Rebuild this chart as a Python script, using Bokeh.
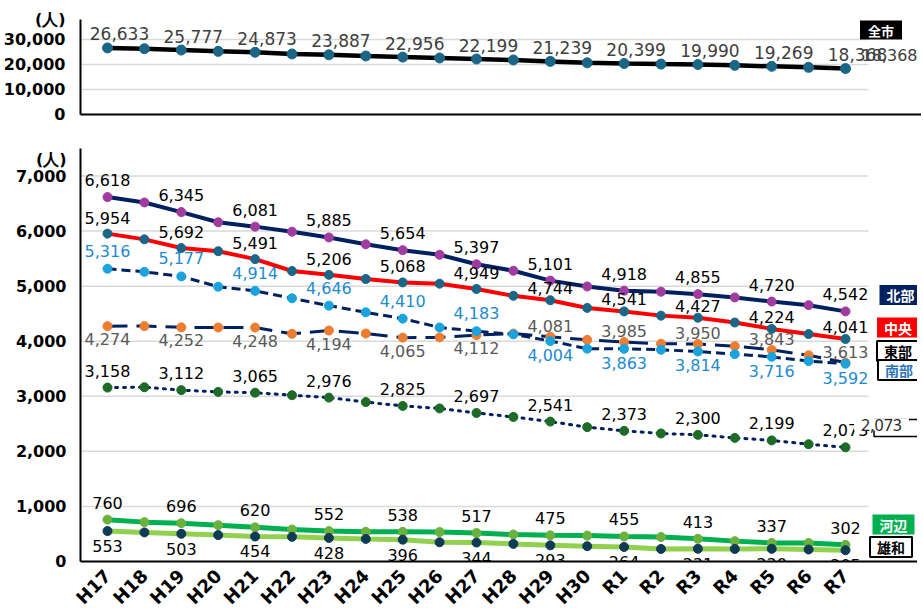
import math
from bokeh.plotting import figure
from bokeh.models import ColumnDataSource, Range1d, FixedTicker, NumeralTickFormatter, Label
from bokeh.layouts import column
from bokeh.core.properties import value
from bokeh.embed import file_html
from bokeh.resources import INLINE

# ---------------- data ----------------
years = ["H17", "H18", "H19", "H20", "H21", "H22", "H23", "H24", "H25", "H26", "H27",
         "H28", "H29", "H30", "R1", "R2", "R3", "R4", "R5", "R6", "R7"]

zenshi = [26633, 26313, 25777, 25255, 24873, 24228, 23887, 23400, 22956, 22600, 22199,
          21805, 21239, 20678, 20399, 20163, 19990, 19653, 19269, 18853, 18368]
hokubu = [6618, 6520, 6345, 6160, 6081, 5990, 5885, 5760, 5654, 5570, 5397,
          5280, 5101, 4995, 4918, 4900, 4855, 4795, 4720, 4655, 4542]
chuo = [5954, 5850, 5692, 5635, 5491, 5275, 5206, 5130, 5068, 5045, 4949,
        4825, 4744, 4605, 4541, 4465, 4427, 4340, 4224, 4130, 4041]
nanbu = [5316, 5260, 5177, 4990, 4914, 4780, 4646, 4525, 4410, 4250, 4183,
         4125, 4004, 3865, 3863, 3845, 3814, 3765, 3716, 3640, 3592]
tobu = [4274, 4275, 4252, 4250, 4248, 4135, 4194, 4140, 4065, 4070, 4112,
        4140, 4081, 4025, 3985, 3955, 3950, 3910, 3843, 3745, 3613]
seibu = [3158, 3165, 3112, 3080, 3065, 3020, 2976, 2895, 2825, 2780, 2697,
         2625, 2541, 2440, 2373, 2325, 2300, 2245, 2199, 2130, 2073]
kawabe = [760, 715, 696, 660, 620, 580, 552, 540, 538, 535, 517,
          490, 475, 470, 455, 445, 413, 370, 337, 335, 302]
yuwa = [553, 528, 503, 480, 454, 448, 428, 410, 396, 350, 344,
        320, 293, 278, 264, 228, 231, 228, 230, 218, 205]

top_ticks = [0, 10000, 20000, 30000]
bottom_ticks = [0, 1000, 2000, 3000, 4000, 5000, 6000, 7000]
top_max = 38000
bottom_max = 7500
top_unit_at = 38000
bottom_unit_at = 7300
unit_text = "(人)"
legend_zenshi = "全市"
legend_names = ["北部", "中央", "東部", "南部", "河辺", "雄和"]
seibu_side_text = "2,073"

# ---------------- geometry (picture px) ----------------
PAGE_DX, PAGE_DY = 4, 0          # where the figures' origin lands in the picture
FRAME_L, FRAME_R = 80, 921
GRID_R = 868
FIRST_PX, STEP = 107.0, 36.9
N = len(years)
x_start = (FRAME_L - FIRST_PX) / STEP
x_end = (FRAME_R - FIRST_PX) / STEP
FRAME_W = FRAME_R - FRAME_L

TOP_FRAME_B = 114
TOP_FRAME_T = TOP_FRAME_B - top_max * 25 / 10000      # 25 px per 10,000
TOP_FIG_H = 130
BOT_FRAME_T, BOT_FRAME_B = 148, 561


def px2x(px):
    return (px - FIRST_PX) / STEP


def py2y_top(py):
    return (TOP_FRAME_B - py) / (TOP_FRAME_B - TOP_FRAME_T) * top_max


def py2y_bot(py):
    return (BOT_FRAME_B - py) / (BOT_FRAME_B - BOT_FRAME_T) * bottom_max


idx = list(range(N))
NUM_FONT = "DejaVu Sans"
CJK = "Noto Sans CJK JP"


def style(p, ticks, unit_at):
    p.background_fill_color = "white"
    p.border_fill_color = "white"
    p.outline_line_color = None
    p.xgrid.grid_line_color = None
    p.ygrid.grid_line_color = None
    # grid lines that stop before the legend column
    gs = ColumnDataSource(dict(y=ticks[1:]))
    p.segment(x0=x_start, x1=px2x(GRID_R), y0="y", y1="y", source=gs,
              line_color="#D9D9D9", line_width=1.5)
    ya = p.yaxis[0]
    ya.ticker = FixedTicker(ticks=ticks + [unit_at])
    ya.formatter = NumeralTickFormatter(format="0,0")
    ya.major_label_overrides = {unit_at: unit_text}
    ya.major_label_text_font = NUM_FONT
    ya.major_label_text_font_style = "bold"
    ya.major_label_text_font_size = "16px"
    ya.major_label_text_color = "black"
    ya.major_tick_line_color = None
    ya.minor_tick_line_color = None
    ya.axis_line_color = "black"
    ya.axis_line_width = 2
    ya.major_label_standoff = 9
    xa = p.xaxis[0]
    xa.axis_line_color = "black"
    xa.axis_line_width = 2
    xa.major_tick_line_color = None
    xa.minor_tick_line_color = None


# ---------------- top panel ----------------
pt = figure(frame_width=FRAME_W, frame_height=int(round(TOP_FRAME_B - TOP_FRAME_T)),
            min_border_left=FRAME_L - PAGE_DX, min_border_right=0,
            min_border_top=int(round(TOP_FRAME_T)) - PAGE_DY,
            min_border_bottom=TOP_FIG_H - TOP_FRAME_B,
            x_range=Range1d(x_start, x_end), y_range=Range1d(0, top_max),
            output_backend="svg", toolbar_location=None)
style(pt, top_ticks, top_unit_at)
pt.xaxis[0].ticker = FixedTicker(ticks=[])
pt.xaxis[0].major_label_text_font_size = "0px"

src_top = ColumnDataSource(dict(x=idx, y=zenshi))
pt.line("x", "y", source=src_top, line_color="black", line_width=4.5)
pt.scatter("x", "y", source=src_top, size=10, fill_color="#1B6587", line_color="#1B6587")

lab_idx = [i for i in idx if i % 2 == 0]
src_top_lab = ColumnDataSource(dict(x=lab_idx, y=[zenshi[i] for i in lab_idx],
                                    t=[f"{zenshi[i]:,}" for i in lab_idx]))
pt.text("x", "y", text="t", source=src_top_lab, x_offset=12, y_offset=-14,
        text_align="center", text_baseline="middle", text_color="#404040",
        text_font=value(NUM_FONT), text_font_size=value("17px"))
# overlapping duplicate of the last value (as in the original)
pt.add_layout(Label(x=px2x(889), y=py2y_top(54), text=f"{zenshi[-1]:,}",
                    text_align="center", text_baseline="middle", text_color="#404040",
                    text_font=NUM_FONT, text_font_size="16px"))
pt.add_layout(Label(x=px2x(880.5), y=py2y_top(29.5), text=legend_zenshi, text_align="center",
                    text_baseline="middle", text_color="white", text_font=CJK,
                    text_font_style="bold", text_font_size="13px",
                    background_fill_color="black", padding=(8, 0)))

# ---------------- bottom panel ----------------
pb = figure(frame_width=FRAME_W, frame_height=BOT_FRAME_B - BOT_FRAME_T,
            min_border_left=FRAME_L - PAGE_DX, min_border_right=0,
            min_border_top=BOT_FRAME_T - TOP_FIG_H, min_border_bottom=40,
            x_range=Range1d(x_start, x_end), y_range=Range1d(0, bottom_max),
            output_backend="svg", toolbar_location=None)
style(pb, bottom_ticks, bottom_unit_at)
xa = pb.xaxis[0]
xa.ticker = FixedTicker(ticks=idx)
xa.major_label_overrides = {i: years[i] for i in idx}
xa.major_label_orientation = math.pi / 4
xa.major_label_text_font = NUM_FONT
xa.major_label_text_font_style = "bold"
xa.major_label_text_font_size = "18px"
xa.major_label_text_color = "black"
xa.major_label_standoff = 5
pb.yaxis[0].major_label_standoff = 8

series = [
    # values, line color, dash, width, marker color
    (hokubu, "#002060", "solid", 4, "#A03CA0"),
    (chuo, "#FF0000", "solid", 4, "#1B6587"),
    (tobu, "#002060", "20 9", 3, "#ED7D31"),
    (nanbu, "#002060", "9 5", 3, "#1AA3DC"),
    (seibu, "#002060", "2 6", 3, "#1E6B28"),
    (kawabe, "#00B050", "solid", 5, "#6AB23E"),
    (yuwa, "#92D050", "solid", 5, "#0F3B55"),
]
for vals, lc, dash, lw, mc in series:
    s = ColumnDataSource(dict(x=idx, y=vals))
    pb.line("x", "y", source=s, line_color=lc, line_width=lw, line_dash=dash,
            line_cap="round" if dash == "2 6" else "butt")
    pb.scatter("x", "y", source=s, size=9, fill_color=mc, line_color=mc)


def add_labels(vals, color, off_early, off_late=None, split=10):
    for part, off in ((lambda i: i <= split, off_early),
                      (lambda i: i > split, off_late if off_late is not None else off_early)):
        ii = [i for i in lab_idx if part(i)]
        if not ii:
            continue
        s = ColumnDataSource(dict(x=ii, y=[vals[i] for i in ii], t=[f"{vals[i]:,}" for i in ii]))
        pb.text("x", "y", text="t", source=s, y_offset=off, text_align="center",
                text_baseline="middle", text_color=color, text_font=value(NUM_FONT),
                text_font_size=value("16px"))


add_labels(hokubu, "black", -17)
add_labels(chuo, "black", -16, -12)
add_labels(tobu, "#595959", 13, -11)
add_labels(nanbu, "#1E8AD2", -18, 14)
add_labels(seibu, "black", -17)
add_labels(kawabe, "black", -17)
add_labels(yuwa, "black", 15)

legend_specs = [
    # text, center px, center py, bg, text color, border
    (legend_names[0], 900, 294.5, "#002060", "white", None),
    (legend_names[1], 897.5, 327, "#FF0000", "white", None),
    (legend_names[2], 897.5, 350.5, "white", "black", "black"),
    (legend_names[3], 898.5, 369.5, "white", "#2E75B6", "black"),
    (legend_names[4], 893, 524, "#00B050", "white", None),
    (legend_names[5], 890.5, 546.5, "white", "black", "black"),
]
for txt, cx, cy, bg, tc, bc in legend_specs:
    pb.add_layout(Label(x=px2x(cx), y=py2y_bot(cy), text=txt, text_align="center",
                        text_baseline="middle", text_color=tc, text_font=CJK,
                        text_font_style="bold", text_font_size="14px",
                        background_fill_color=bg, border_line_color=bc,
                        border_line_width=2, padding=(7, 0)))

# empty bordered box partially covered by the "2,073" text
pb.add_layout(Label(x=px2x(896.5), y=py2y_bot(427.5), text="\u3000\u3000", text_align="center",
                    text_baseline="middle", text_font=CJK, text_font_size="12px",
                    background_fill_color="white", border_line_color="black",
                    border_line_width=1.5, padding=(11, 0)))
pb.add_layout(Label(x=px2x(881), y=py2y_bot(424), text=seibu_side_text, text_align="center",
                    text_baseline="middle", text_color="#262626", text_font="Noto Sans",
                    text_font_size="16px", background_fill_color="white", padding=(7, 0)))

layout = column(pt, pb)
open("out.html", "w").write(file_html(layout, INLINE))
